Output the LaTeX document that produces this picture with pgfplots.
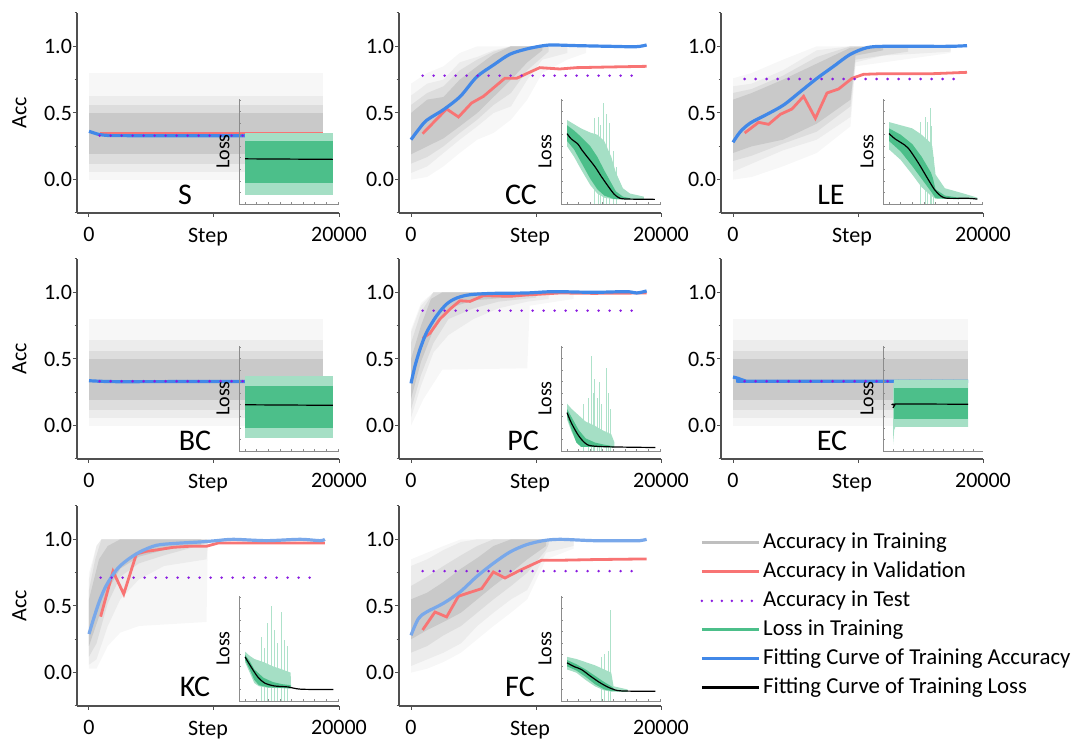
\documentclass[border=0pt]{standalone}
\usepackage{fontspec}
\setmainfont{Carlito}
\usepackage{pgfplots}
\pgfplotsset{compat=1.18}
\definecolor{cred}{HTML}{F87474}
\definecolor{cpurp}{HTML}{8A1BE0}
\definecolor{cgreen}{HTML}{4CBF8A}
\definecolor{cblue}{HTML}{4188E8}
\definecolor{cblue2}{HTML}{79A8EA}
\definecolor{axc}{HTML}{505050}

\tikzset{lab/.style={font=\fontsize{15}{18}\selectfont, inner sep=0pt}}
\pgfplotsset{
  mainax/.style={
    scale only axis, width=131pt, height=100pt, anchor=south west,
    xmin=-960, xmax=20000, ymin=-0.25, ymax=1.25,
    axis lines=left, axis line style={axc, line width=0.6pt, -},
    xtick={0,10000,20000}, xticklabels={0,,20000}, scaled ticks=false,
    ytick={0,0.5,1}, minor ytick={-0.25,0.25,0.75,1.25},
    tick align=outside, major tick length=2pt, minor tick length=1.2pt,
    every tick/.style={axc, line width=0.5pt},
    /pgf/number format/assume math mode=true,
    yticklabel style={/pgf/number format/fixed, /pgf/number format/precision=1,
      /pgf/number format/fixed zerofill, xshift=3pt},
    xticklabel style={yshift=-1.5pt},
    ticklabel style={font=\fontsize{11}{13}\selectfont},
    xlabel=Step,
    xlabel style={font=\fontsize{11}{13}\selectfont, at={(axis description cs:0.5,0)},
      anchor=north, inner sep=0pt, yshift=-7.5pt},
  },
  acclab/.style={ylabel=Acc, ylabel style={font=\fontsize{11}{13}\selectfont,
      at={(axis description cs:0,0.5)}, anchor=south, inner sep=0pt, yshift=25pt}},
  inax/.style={
    scale only axis, width=50pt, height=52.5pt, anchor=south west,
    xmin=-1300, xmax=20200, ymin=0, ymax=1, scaled ticks=false,
    axis lines=left, axis line style={black!45, line width=0.4pt, -},
    xtick={0,2500,5000,7500,10000,12500,15000,17500,20000},
    ytick={0.11,0.22,0.33,0.44,0.55,0.66,0.77,0.88,0.99},
    xticklabels={}, yticklabels={},
    tick align=inside, major tick length=1.2pt,
    every tick/.style={black!45, line width=0.35pt},
    ylabel=Loss,
    ylabel style={font=\fontsize{10}{12}\selectfont, at={(axis description cs:0,0.5)},
      anchor=south, inner sep=0pt, yshift=4.5pt},
  },
  gfaint/.style={fill=gray!6, draw=none},
  glight/.style={fill=gray!15, draw=none},
  gmid/.style={fill=gray!27, draw=none},
  gcore/.style={fill=gray!42, draw=none},
  grspike/.style={ycomb, cgreen!45, line width=0.45pt},
  grlight/.style={fill=cgreen!50, draw=none},
  grcore/.style={fill=cgreen, draw=none},
  redl/.style={cred, line width=1.4pt},
  bluel/.style={cblue, line width=1.6pt, smooth},
  bluel2/.style={cblue2, line width=1.6pt, smooth},
  purpl/.style={cpurp, line width=1.4pt, line cap=round, dash pattern=on 0pt off 5.5pt},
  blkl/.style={black, line width=0.6pt, smooth},
}

\begin{document}
\begin{tikzpicture}
\path (0,0) rectangle (539pt,369pt);

% ---------------- S ----------------
\begin{axis}[mainax, acclab, at={(38.5pt,262.5pt)}]
\addplot[gfaint] coordinates {(0,0.0)(18700,0.0)(18700,0.8)(0,0.8)};
\addplot[glight] coordinates {(0,0.06)(18700,0.06)(18700,0.63)(0,0.63)};
\addplot[gmid] coordinates {(0,0.12)(18700,0.12)(18700,0.56)(0,0.56)};
\addplot[gcore] coordinates {(0,0.19)(18700,0.19)(18700,0.5)(0,0.5)};
\addplot[redl] coordinates {(850,0.35)(18750,0.35)};
\addplot[bluel] coordinates {(0,0.3625)(400,0.35)(850,0.338)(1500,0.332)(3000,0.33)(18900,0.33)};
\addplot[purpl] coordinates {(850,0.33)(18700,0.33)};
\node[lab] at (axis cs:7680,-0.115) {S};
\end{axis}
\begin{axis}[inax, at={(119.5pt,267pt)}]
\addplot[grlight] coordinates {(0,0.09)(18900,0.09)(18900,0.68)(0,0.68)};
\addplot[grcore] coordinates {(0,0.2)(18900,0.2)(18900,0.6)(0,0.6)};
\addplot[blkl] coordinates {(0,0.43)(18900,0.425)};
\end{axis}

% ---------------- CC ----------------
\begin{axis}[mainax, at={(199.5pt,262.5pt)}]
\addplot[gfaint] coordinates {(0,0.72)(1300,0.8)(2600,0.85)(3900,0.95)(5300,1.0)(14000,1.0)
  (14000,0.95)(12500,0.9)(10500,0.8)(9300,0.6)(8000,0.45)(6600,0.35)(5300,0.3)(3900,0.2)(2600,0.1)(1300,0.02)(0,0.0)};
\addplot[glight] coordinates {(0,0.63)(1300,0.72)(2600,0.75)(3900,0.88)(5300,0.92)(6600,0.97)(8000,1.0)(12500,1.0)
  (12500,0.95)(10500,0.9)(9300,0.75)(8000,0.55)(6600,0.5)(5300,0.4)(3900,0.3)(2600,0.2)(1300,0.1)(0,0.05)};
\addplot[gmid] coordinates {(0,0.56)(1300,0.65)(2600,0.7)(3900,0.82)(5300,0.9)(6600,0.96)(8000,1.0)(11000,1.0)
  (11000,0.96)(9300,0.82)(8000,0.65)(6600,0.56)(5300,0.45)(3900,0.35)(2600,0.25)(1300,0.17)(0,0.12)};
\addplot[gcore] coordinates {(0,0.5)(1300,0.6)(2600,0.62)(3900,0.75)(5300,0.85)(6600,0.94)(8000,1.0)(10500,1.0)
  (10500,0.97)(9300,0.88)(8000,0.75)(6600,0.62)(5300,0.5)(3900,0.4)(2600,0.31)(1300,0.25)(0,0.19)};
\addplot[redl] coordinates {(930,0.345)(2850,0.53)(3800,0.47)(4850,0.575)(5800,0.625)(7500,0.76)(8450,0.76)
  (9250,0.795)(10300,0.84)(11900,0.83)(13250,0.84)(15900,0.845)(18850,0.85)};
\addplot[bluel] coordinates {(0,0.30)(600,0.375)(1250,0.445)(2600,0.525)(3950,0.625)(5250,0.77)(6600,0.86)
  (7900,0.94)(9250,0.98)(10600,1.005)(11400,1.01)(13300,1.005)(15900,1.0)(18000,0.997)(18850,1.01)};
\addplot[purpl] coordinates {(930,0.78)(18450,0.78)};
\node[lab] at (axis cs:8800,-0.115) {CC};
\end{axis}
\begin{axis}[inax, at={(280.5pt,267pt)}]
\addplot[grspike] coordinates {(5950,0.82)(6670,0.83)(7200,0.75)(7740,0.96)(8460,0.86)(9180,0.77)(9890,0.5)(10600,0.35)};
\addplot[grlight] coordinates {(0,0.8)(1500,0.76)(3000,0.72)(5000,0.68)(6500,0.66)(8000,0.6)(9500,0.45)(10500,0.3)
  (12000,0.15)(13500,0.1)(16500,0.07)(16500,0.045)(10000,0.045)(8000,0.06)(6500,0.1)(5000,0.18)(3000,0.33)(1500,0.45)(0,0.55)};
\addplot[grcore] coordinates {(0,0.75)(1500,0.7)(3000,0.64)(5000,0.55)(6500,0.45)(8000,0.32)(9500,0.2)(10500,0.12)
  (12000,0.07)(13500,0.055)(13500,0.045)(10000,0.048)(8000,0.08)(6500,0.14)(5000,0.24)(3000,0.4)(1500,0.52)(0,0.6)};
\addplot[blkl] coordinates {(0,0.67)(900,0.62)(2350,0.57)(3100,0.52)(4500,0.44)(6000,0.355)(7400,0.26)(8900,0.165)
  (10000,0.1)(11000,0.063)(12400,0.048)(18900,0.044)};
\end{axis}

% ---------------- LE ----------------
\begin{axis}[mainax, at={(360.5pt,262.5pt)}]
\addplot[gfaint] coordinates {(0,0.76)(1500,0.8)(4000,0.9)(6700,1.0)(17400,1.0)
  (17400,0.95)(9800,0.85)(9400,0.4)(6700,0.2)(4000,0.1)(1500,0.02)(0,0.0)};
\addplot[glight] coordinates {(0,0.7)(1500,0.72)(4000,0.82)(6700,0.97)(9400,1.0)(17400,1.0)
  (17400,0.96)(12000,0.93)(9800,0.88)(9400,0.47)(6700,0.3)(4000,0.22)(1500,0.12)(0,0.06)};
\addplot[gmid] coordinates {(0,0.65)(1500,0.68)(4000,0.78)(6700,0.92)(9400,1.0)(14000,1.0)
  (14000,0.96)(9800,0.9)(9400,0.55)(6700,0.36)(4000,0.27)(1500,0.18)(0,0.14)};
\addplot[gcore] coordinates {(0,0.6)(1500,0.65)(4000,0.75)(6700,0.87)(9400,0.99)(12000,1.0)
  (12000,0.97)(9800,0.93)(9400,0.6)(6700,0.42)(4000,0.3)(1500,0.25)(0,0.2)};
\addplot[redl] coordinates {(930,0.35)(2050,0.43)(2850,0.415)(3790,0.49)(4720,0.53)(5650,0.625)(6590,0.46)
  (7520,0.65)(8450,0.68)(9520,0.76)(10450,0.79)(12050,0.795)(16050,0.795)(18720,0.805)};
\addplot[bluel] coordinates {(0,0.28)(590,0.36)(1390,0.425)(2720,0.49)(4050,0.56)(5390,0.66)(6720,0.76)
  (8050,0.85)(9390,0.94)(10720,0.99)(12050,1.0)(14720,1.0)(17400,1.0)(18720,1.005)};
\addplot[purpl] coordinates {(930,0.755)(18450,0.755)};
\node[lab] at (axis cs:7840,-0.115) {LE};
\end{axis}
\begin{axis}[inax, at={(441.5pt,267pt)}]
\addplot[grspike] coordinates {(6800,0.78)(7740,0.83)(8300,0.78)(8820,0.91)(9180,0.74)(9600,0.45)};
\addplot[grlight] coordinates {(0,0.78)(2500,0.75)(5000,0.72)(7000,0.66)(9000,0.58)(9300,0.55)(10000,0.28)(12000,0.15)
  (16000,0.1)(19000,0.06)(19000,0.045)(10000,0.05)(9000,0.08)(7000,0.16)(5000,0.28)(2500,0.42)(0,0.52)};
\addplot[grcore] coordinates {(0,0.72)(2500,0.66)(5000,0.57)(7000,0.45)(9000,0.3)(9400,0.25)(10000,0.14)(12000,0.08)
  (15000,0.06)(15000,0.045)(10000,0.055)(9000,0.12)(7000,0.24)(5000,0.36)(2500,0.5)(0,0.6)};
\addplot[blkl] coordinates {(0,0.67)(1290,0.62)(2720,0.58)(4160,0.53)(6310,0.39)(8460,0.23)(9890,0.13)(11330,0.07)
  (12760,0.054)(17060,0.054)(19000,0.046)};
\end{axis}

% ---------------- BC ----------------
\begin{axis}[mainax, acclab, at={(38.5pt,139.5pt)}]
\addplot[gfaint] coordinates {(0,0.0)(18700,0.0)(18700,0.8)(0,0.8)};
\addplot[glight] coordinates {(0,0.06)(18700,0.06)(18700,0.64)(0,0.64)};
\addplot[gmid] coordinates {(0,0.12)(18700,0.12)(18700,0.56)(0,0.56)};
\addplot[gcore] coordinates {(0,0.19)(18700,0.19)(18700,0.5)(0,0.5)};
\addplot[redl] coordinates {(850,0.334)(18750,0.334)};
\addplot[bluel] coordinates {(0,0.337)(1500,0.331)(4000,0.33)(18900,0.333)};
\addplot[purpl] coordinates {(850,0.333)(18700,0.333)};
\node[lab] at (axis cs:8480,-0.115) {BC};
\end{axis}
\begin{axis}[inax, at={(119.5pt,143.5pt)}]
\addplot[grlight] coordinates {(0,0.12)(18900,0.12)(18900,0.715)(0,0.715)};
\addplot[grcore] coordinates {(0,0.22)(18900,0.22)(18900,0.62)(0,0.62)};
\addplot[blkl] coordinates {(0,0.44)(18900,0.435)};
\end{axis}

% ---------------- PC ----------------
\begin{axis}[mainax, at={(199.5pt,139.5pt)}]
\addplot[gfaint] coordinates {(0,0.72)(800,0.92)(1800,1.0)(13000,1.0)(13000,0.95)(9500,0.9)(9300,0.43)(2500,0.42)(1000,0.2)(0,0.0)};
\addplot[glight] coordinates {(0,0.7)(800,0.9)(1800,1.0)(11000,1.0)(11000,0.95)(9300,0.93)(7000,0.88)(5000,0.8)(3000,0.68)(1800,0.55)(800,0.3)(0,0.06)};
\addplot[gmid] coordinates {(0,0.62)(800,0.85)(1800,1.0)(10000,1.0)(10000,0.96)(7000,0.93)(5000,0.88)(3000,0.8)(1800,0.62)(800,0.38)(0,0.12)};
\addplot[gcore] coordinates {(0,0.5)(800,0.75)(1600,0.95)(2500,1.0)(9000,1.0)(9000,0.97)(5000,0.94)(3000,0.88)(1800,0.72)(800,0.48)(0,0.2)};
\addplot[redl] coordinates {(930,0.655)(1520,0.693)(2320,0.80)(3120,0.874)(3920,0.937)(4720,0.932)(5790,0.975)
  (7920,0.97)(9250,0.98)(11920,0.995)(14590,0.992)(18850,0.995)};
\addplot[bluel] coordinates {(0,0.317)(320,0.447)(720,0.573)(1250,0.70)(2050,0.824)(2850,0.912)(3650,0.957)
  (4720,0.982)(6590,0.992)(9250,0.995)(11390,1.005)(14590,1.0)(17250,1.005)(18050,0.995)(18850,1.01)};
\addplot[purpl] coordinates {(930,0.862)(18450,0.862)};
\node[lab] at (axis cs:8960,-0.115) {PC};
\end{axis}
\begin{axis}[inax, at={(280.5pt,143.5pt)}]
\addplot[grspike] coordinates {(3500,0.45)(4500,0.5)(5230,0.9)(5600,0.55)(5950,0.69)(6500,0.5)(7030,0.66)(7500,0.45)(8460,0.79)(8820,0.55)(9300,0.4)};
\addplot[grlight] coordinates {(0,0.45)(1000,0.4)(2500,0.34)(4000,0.28)(6000,0.24)(7500,0.2)(9500,0.16)(10200,0.08)
  (10200,0.035)(3000,0.045)(2000,0.09)(1000,0.18)(0,0.3)};
\addplot[grcore] coordinates {(0,0.4)(1000,0.32)(2500,0.2)(4000,0.12)(6000,0.08)(8000,0.06)(10000,0.045)
  (10000,0.035)(3000,0.04)(2000,0.08)(1000,0.2)(0,0.33)};
\addplot[blkl] coordinates {(0,0.365)(930,0.267)(2370,0.153)(3800,0.078)(5230,0.049)(9530,0.039)(19000,0.033)};
\end{axis}

% ---------------- EC ----------------
\begin{axis}[mainax, at={(360.5pt,139.5pt)}]
\addplot[gfaint] coordinates {(0,0.0)(18800,0.0)(18800,0.8)(0,0.8)};
\addplot[glight] coordinates {(0,0.06)(18800,0.06)(18800,0.64)(0,0.64)};
\addplot[gmid] coordinates {(0,0.12)(18800,0.12)(18800,0.56)(0,0.56)};
\addplot[gcore] coordinates {(0,0.19)(18800,0.19)(18800,0.5)(0,0.5)};
\addplot[redl] coordinates {(930,0.334)(18800,0.334)};
\addplot[bluel] coordinates {(0,0.365)(400,0.355)(900,0.338)(1500,0.333)(18800,0.333)};
\addplot[purpl] coordinates {(930,0.333)(18450,0.333)};
\node[lab] at (axis cs:7920,-0.115) {EC};
\end{axis}
\begin{axis}[inax, at={(441.5pt,143.5pt)}, xmin=-2500, xmax=22500]
\addplot[grlight] coordinates {(0,0.6)(300,0.68)(18800,0.68)(18800,0.23)(600,0.23)(300,0.2)(0,0.06)};
\addplot[grcore] coordinates {(300,0.6)(18800,0.6)(18800,0.3)(300,0.3)};
\addplot[blkl] coordinates {(0,0.41)(400,0.435)(1000,0.447)(18800,0.445)};
\end{axis}

% ---------------- KC ----------------
\begin{axis}[mainax, acclab, at={(38.5pt,16pt)}]
\addplot[gfaint] coordinates {(0,0.75)(600,0.95)(1000,1.0)(9500,1.0)(9500,0.95)(9400,0.38)(4000,0.35)(2500,0.3)(1500,0.2)(600,0.03)(0,0.03)};
\addplot[glight] coordinates {(0,0.7)(600,0.95)(1000,1.0)(9500,1.0)(9500,0.96)(9400,0.85)(6000,0.8)(4000,0.7)(2500,0.55)(1500,0.35)(600,0.1)(0,0.06)};
\addplot[gmid] coordinates {(0,0.62)(500,0.85)(1000,1.0)(9500,1.0)(9500,0.97)(6000,0.88)(4000,0.82)(2500,0.72)(1500,0.52)(600,0.22)(0,0.12)};
\addplot[gcore] coordinates {(0,0.55)(800,0.85)(1500,0.95)(2500,1.0)(9000,1.0)(9000,0.96)(6000,0.92)(4000,0.87)(2500,0.78)(1500,0.62)(800,0.42)(0,0.2)};
\addplot[redl] coordinates {(930,0.42)(1920,0.76)(2780,0.59)(3790,0.89)(4590,0.91)(5390,0.92)(6730,0.94)(8060,0.948)
  (9400,0.948)(10330,0.972)(11540,0.972)(18870,0.972)};
\addplot[bluel2] coordinates {(0,0.29)(320,0.39)(850,0.54)(1390,0.655)(2190,0.77)(2990,0.84)(4060,0.905)(5390,0.955)
  (7000,0.97)(8860,0.98)(10200,0.99)(11540,1.0)(14200,0.99)(16870,1.0)(18470,0.99)(18870,1.0)};
\addplot[purpl] coordinates {(930,0.712)(18450,0.712)};
\node[lab] at (axis cs:8480,-0.11) {KC};
\end{axis}
\begin{axis}[inax, at={(119.5pt,18.5pt)}]
\addplot[grspike] coordinates {(3440,0.61)(4200,0.5)(4880,0.74)(5590,0.9)(6310,0.68)(7000,0.55)(7740,0.85)(8460,0.58)(9180,0.52)};
\addplot[grlight] coordinates {(0,0.47)(1000,0.43)(2000,0.4)(4000,0.37)(6000,0.33)(8000,0.3)(9800,0.27)(9900,0.13)
  (9900,0.12)(5000,0.125)(3000,0.14)(2000,0.17)(1000,0.27)(0,0.37)};
\addplot[grcore] coordinates {(0,0.44)(1000,0.38)(2000,0.3)(4000,0.22)(6000,0.18)(8000,0.16)(9800,0.15)
  (9800,0.12)(5000,0.13)(3000,0.15)(2000,0.2)(1000,0.3)(0,0.39)};
\addplot[blkl] coordinates {(0,0.42)(1290,0.325)(2720,0.23)(4160,0.172)(6310,0.143)(9180,0.134)(12040,0.112)(19000,0.11)};
\end{axis}

% ---------------- FC ----------------
\begin{axis}[mainax, at={(199.5pt,16pt)}]
\addplot[gfaint] coordinates {(0,0.85)(1300,0.9)(2600,0.95)(4000,1.0)(13000,1.0)(13000,0.93)(10800,0.85)(9300,0.55)
  (8000,0.45)(6600,0.35)(5300,0.25)(4000,0.15)(2600,0.08)(1300,0.03)(0,0.0)};
\addplot[glight] coordinates {(0,0.8)(1300,0.85)(2600,0.92)(4000,0.98)(5300,1.0)(13000,1.0)(13000,0.95)(10800,0.9)
  (9300,0.62)(8000,0.55)(6600,0.45)(5300,0.35)(4000,0.22)(2600,0.15)(1300,0.1)(0,0.05)};
\addplot[gmid] coordinates {(0,0.65)(1300,0.72)(2600,0.8)(4000,0.88)(5300,0.95)(6600,1.0)(11000,1.0)(11000,0.96)
  (10800,0.92)(9300,0.75)(8000,0.65)(6600,0.55)(5300,0.45)(4000,0.35)(2600,0.28)(1300,0.2)(0,0.15)};
\addplot[gcore] coordinates {(0,0.55)(1300,0.6)(2600,0.68)(4000,0.78)(5300,0.86)(6600,0.95)(8000,1.0)(10800,1.0)
  (10800,0.95)(9300,0.85)(8000,0.75)(6600,0.65)(5300,0.55)(4000,0.45)(2600,0.38)(1300,0.32)(0,0.25)};
\addplot[redl] coordinates {(930,0.32)(1920,0.455)(2850,0.418)(3790,0.573)(4590,0.598)(5650,0.63)(6590,0.755)
  (7520,0.71)(8720,0.768)(10450,0.843)(11920,0.843)(14590,0.848)(18850,0.853)};
\addplot[bluel2] coordinates {(0,0.28)(590,0.405)(1250,0.455)(2590,0.52)(3920,0.605)(5250,0.72)(6590,0.82)
  (7920,0.905)(9250,0.96)(10590,0.99)(11920,1.0)(14590,0.99)(17250,0.99)(18320,0.99)(18850,1.0)};
\addplot[purpl] coordinates {(930,0.762)(18450,0.762)};
\node[lab] at (axis cs:8720,-0.11) {FC};
\end{axis}
\begin{axis}[inax, at={(280.5pt,18.5pt)}]
\addplot[grspike] coordinates {(7380,0.42)(8100,0.45)(8820,0.48)(9390,0.87)};
\addplot[grlight] coordinates {(0,0.42)(2000,0.4)(4000,0.37)(6000,0.34)(8000,0.3)(9500,0.27)(10000,0.14)(13000,0.11)
  (13000,0.088)(9500,0.09)(8000,0.1)(6000,0.14)(4000,0.2)(2000,0.27)(0,0.3)};
\addplot[grcore] coordinates {(0,0.39)(2000,0.35)(4000,0.3)(6000,0.24)(8000,0.18)(9500,0.14)(10500,0.1)(13000,0.095)
  (13000,0.088)(9500,0.095)(8000,0.11)(6000,0.16)(4000,0.23)(2000,0.29)(0,0.33)};
\addplot[blkl] coordinates {(0,0.363)(1650,0.325)(3080,0.30)(5230,0.23)(7380,0.166)(9530,0.118)(11680,0.096)(19000,0.092)};
\end{axis}

% ---------------- legend ----------------
\begin{axis}[at={(350pt,15pt)}, anchor=south west, scale only axis, width=180pt, height=90pt,
  hide axis, xmin=0, xmax=1, ymin=0, ymax=1,
  legend cell align=left,
  legend image code/.code={\draw[#1] (0pt,0pt) -- (28.5pt,0pt);},
  legend style={at={(0,1)}, anchor=north west, draw=none, fill=none, inner sep=0pt,
    font=\fontsize{11.4}{13}\selectfont, row sep=0pt,
    nodes={inner xsep=1.5pt, inner ysep=1.5pt, text height=8.5pt, text depth=3pt}}]
\addlegendimage{gray!50, line width=1.4pt}
\addlegendentry{Accuracy in Training}
\addlegendimage{cred, line width=1.4pt}
\addlegendentry{Accuracy in Validation}
\addlegendimage{cpurp, line width=1.4pt, line cap=round, dash pattern=on 0pt off 5pt}
\addlegendentry{Accuracy in Test}
\addlegendimage{cgreen, line width=1.4pt}
\addlegendentry{Loss in Training}
\addlegendimage{cblue, line width=1.4pt}
\addlegendentry{Fitting Curve of Training Accuracy}
\addlegendimage{black, line width=1.4pt}
\addlegendentry{Fitting Curve of Training Loss}
\end{axis}
\end{tikzpicture}
\end{document}
